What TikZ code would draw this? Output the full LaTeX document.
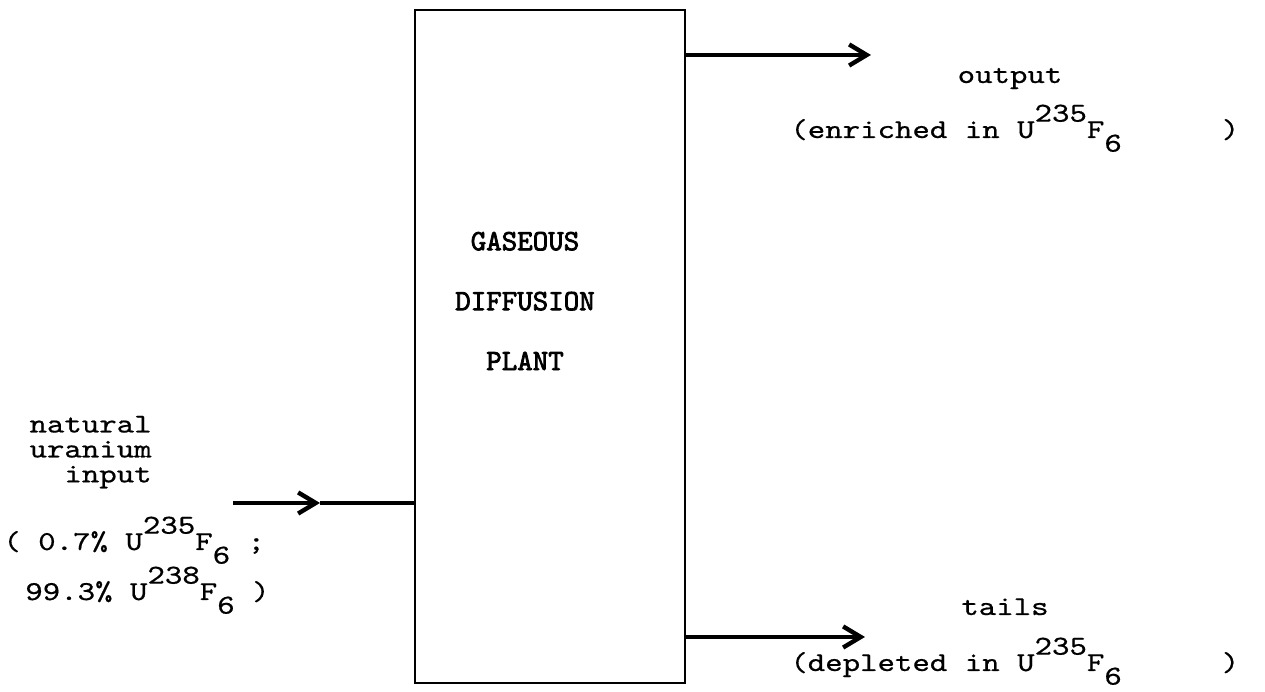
\documentclass[tikz,border=0pt]{standalone}
\usepackage{fontspec}
\usetikzlibrary{arrows.meta}
\newfontfamily\typer{lmmono10-regular.otf}[FakeStretch=1.22,FakeBold=0.6]
\newfontfamily\plantfont{lmmono10-regular.otf}[FakeBold=2.5]
\newcommand\isoup[1]{\raisebox{0.6em}{#1}}
\newcommand\isodn[1]{\raisebox{-0.5em}{#1}}
\tikzset{
  plantbox/.style={draw,line width=1.3pt,minimum width=5.4cm,minimum height=13.46cm,inner sep=0pt},
  pipe/.style={line width=2.5pt},
  flow/.style={pipe,-{Straight Barb[length=10pt,width=12pt]}},
  lbl/.style={inner sep=0pt,font=\typer\fontsize{15.5}{14.2}\selectfont}
}
\begin{document}
\begin{tikzpicture}
\useasboundingbox (0,0) rectangle (25.3,13.84);

\node[plantbox] (plant) at (11.0,6.91) {};
\node[inner sep=0pt,align=center,font=\plantfont\fontsize{16.8}{34.1}\selectfont] (plantname) at (10.50,7.82) {GASEOUS\\DIFFUSION\\PLANT};

% feed
\coordinate (feed) at (4.66,3.78);
\coordinate (feedtip) at (6.40,3.78);
\draw[flow] (feed) -- (feedtip);
\draw[pipe] (feedtip) -- (plant.west |- feed);
\node[lbl,align=right,anchor=north east] (feedname) at (3.04,5.53) {natural\\uranium\\input};
\node[lbl,anchor=base west] (feedmixa) at (0.06,2.84) {( 0.7\% U\isoup{235}F\isodn{6} ;};
\node[lbl,anchor=base west] (feedmixb) at (0.50,1.84) {99.3\% U\isoup{238}F\isodn{6} )};

% product
\coordinate (outtip) at (17.42,12.74);
\draw[flow] (plant.east |- outtip) -- (outtip);
\node[lbl,anchor=base] (outname) at (20.20,12.18) {output};
\node[lbl,anchor=base west] (outmix) at (15.80,11.08) {(enriched in U\isoup{235}F\isodn{6}\hspace{1.65cm} )};

% tails
\coordinate (tailtip) at (17.30,1.10);
\draw[flow] (plant.east |- tailtip) -- (tailtip);
\node[lbl,anchor=base] (tailname) at (20.10,1.54) {tails};
\node[lbl,anchor=base west] (tailmix) at (15.80,0.42) {(depleted in U\isoup{235}F\isodn{6}\hspace{1.65cm} )};
\end{tikzpicture}
\end{document}
